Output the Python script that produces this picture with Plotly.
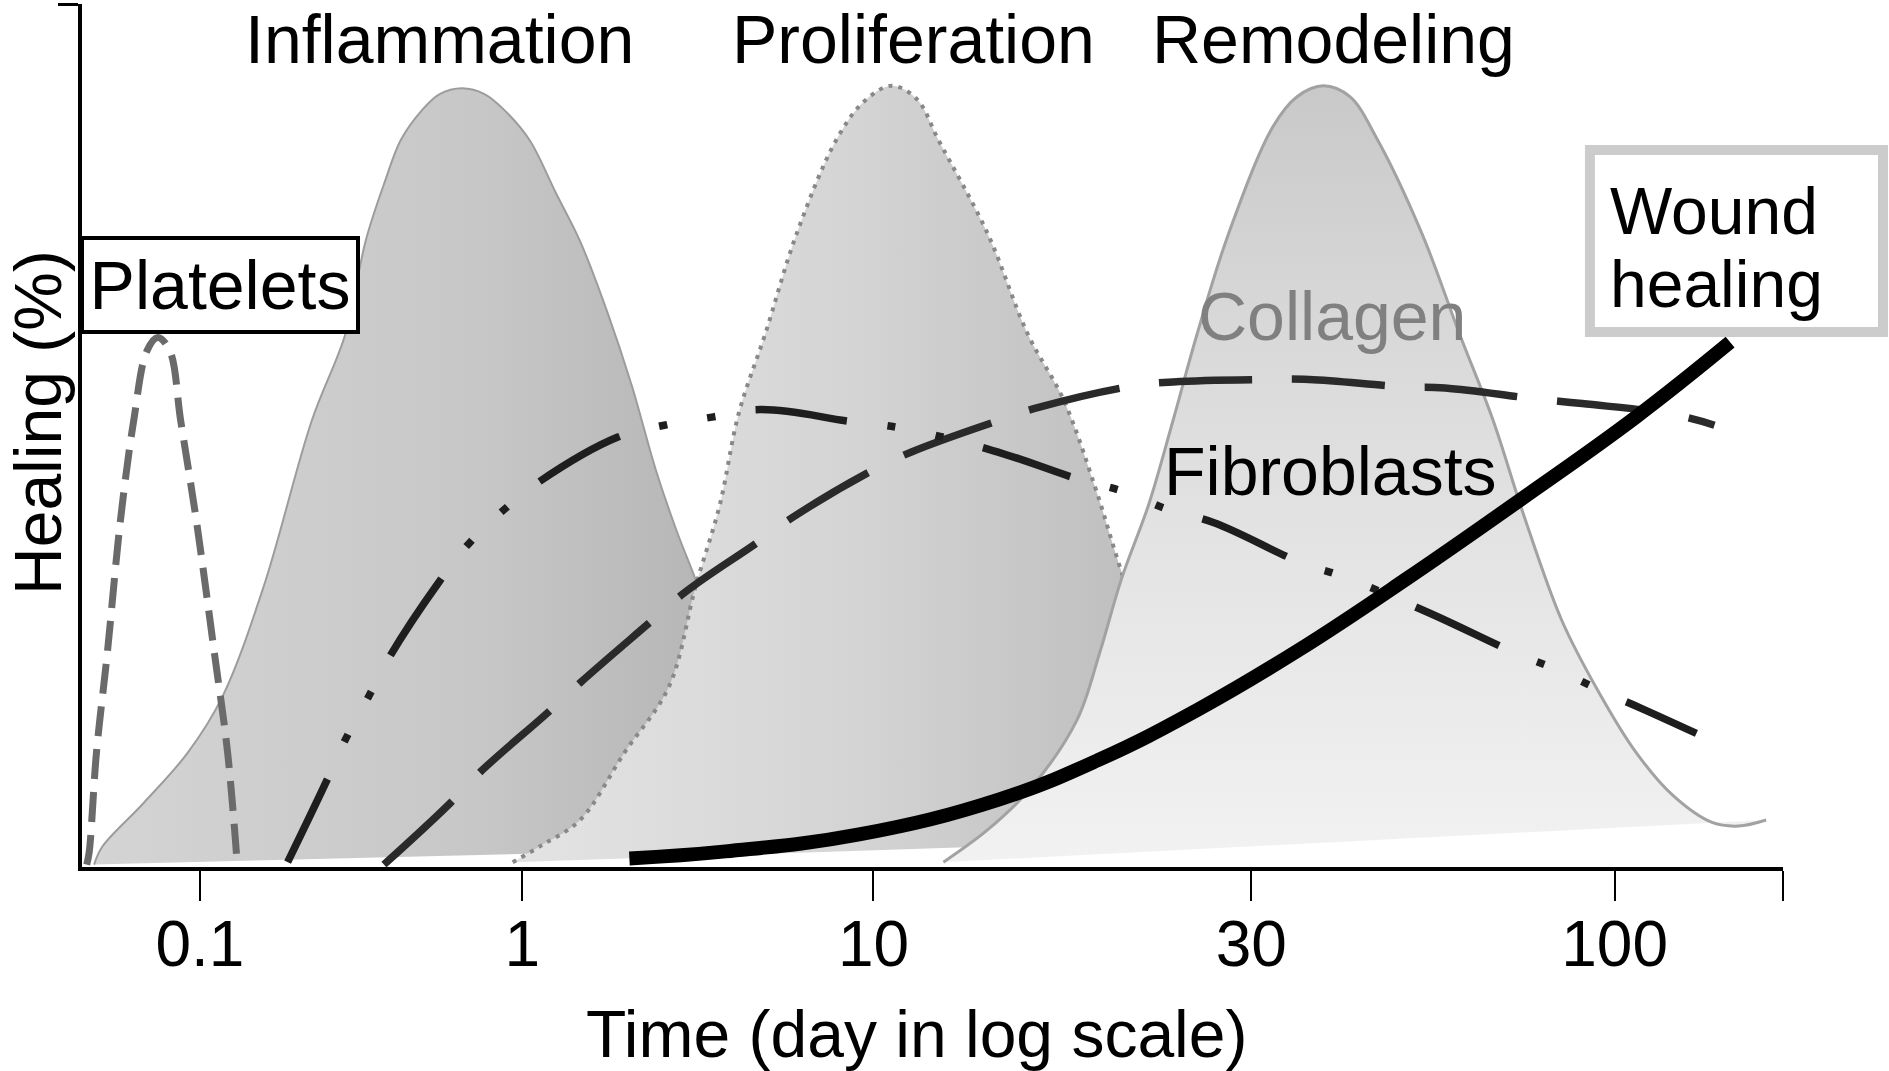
import plotly.graph_objects as go

FONT = "Liberation Sans, Arial, Helvetica, sans-serif"

# x: schematic position along the time axis (0-100), y: healing (%)
tick_pos = [6.93, 25.88, 46.53, 68.74, 90.10, 100]
tick_text = ["0.1", "1", "10", "30", "100", ""]

# Phase bells
inflam_x = [0.71, 1.20, 3.61, 6.22, 8.27, 10.68, 13.51, 15.49, 16.69, 17.82, 18.74, 19.94, 21.00,
            22.35, 23.69, 24.89, 26.31, 27.86, 29.28, 30.91, 32.32, 33.73, 34.94, 36.07, 37.62,
            39.75, 42.57, 46.11]
inflam_y = [0.28, 2.37, 7.39, 13.25, 19.80, 32.50, 51.74, 61.79, 72.66, 79.50, 84.24, 87.59, 89.54,
            90.24, 89.54, 87.59, 84.24, 78.10, 72.52, 64.16, 55.79, 46.03, 39.05, 33.33, 25.10,
            15.34, 6.97, 2.51]

prolif_x = [25.32, 27.02, 29.28, 31.89, 34.51, 36.07, 37.48, 38.61, 40.17, 42.01, 44.34, 45.97,
            47.60, 49.08, 50.35, 53.25, 55.59, 57.71, 59.55, 60.89, 62.38, 64.14, 66.62, 70.16]
prolif_y = [0.56, 2.51, 5.44, 13.25, 20.92, 32.50, 41.84, 52.58, 61.79, 73.36, 84.24, 88.70,
            90.52, 88.98, 84.24, 73.36, 61.79, 54.11, 44.07, 35.56, 26.50, 16.74, 8.37, 3.49]

remod_x = [50.64, 53.25, 55.87, 58.49, 59.83, 61.10, 62.73, 64.14, 65.56, 67.40, 70.01, 71.43,
           72.98, 74.54, 76.17, 78.78, 80.98, 82.96, 84.72, 86.99, 89.18, 91.37, 93.56, 95.83,
           97.38, 99.01]
remod_y = [0.56, 4.32, 9.34, 17.02, 24.83, 33.33, 42.12, 51.74, 61.79, 73.36, 85.77, 89.26,
           90.52, 89.26, 84.24, 73.36, 61.79, 51.74, 41.00, 28.59, 20.22, 13.25, 8.23, 5.16,
           4.74, 5.44]

# Curves
platelets_x = [0.28, 0.42, 0.85, 1.49, 2.26, 3.04, 3.82, 4.46, 5.16, 5.80, 6.72, 7.78, 8.56, 9.12]
platelets_y = [0.28, 1.67, 13.25, 24.83, 40.17, 51.74, 59.83, 61.37, 59.83, 51.74, 40.17, 24.83,
               13.25, 0.56]

collagen_x = [17.75, 21.64, 23.34, 27.44, 29.28, 33.45, 35.43, 39.75, 41.73, 46.53, 48.80, 53.89,
              56.29, 61.53, 64.14, 69.66, 72.14, 77.65, 80.13, 85.43, 88.19, 93.49, 95.97]
collagen_y = [0.28, 7.39, 10.88, 17.99, 21.34, 28.45, 31.80, 37.66, 40.45, 46.03, 48.12, 51.74,
              53.28, 55.65, 56.21, 56.49, 56.49, 55.65, 55.51, 54.25, 53.70, 52.44, 51.19]

fibro_x = [12.09, 14.43, 15.49, 16.83, 18.10, 21.00, 22.70, 24.82, 26.87, 31.47, 34.23, 37.13,
           39.89, 45.26, 48.02, 53.54, 58.63, 61.24, 63.86, 66.55, 71.64, 74.19, 79.21, 84.23,
           86.70, 89.39, 91.80, 94.91]
fibro_y = [0.56, 10.18, 14.78, 19.67, 24.41, 33.05, 37.38, 41.42, 44.63, 49.79, 51.19, 52.16,
           53.00, 51.60, 50.91, 48.26, 44.91, 43.51, 41.42, 39.89, 35.29, 33.61, 29.43, 24.83,
           22.87, 20.36, 18.27, 15.48]

wound_x = [32.18, 37.84, 45.69, 53.89, 59.76, 65.63, 71.50, 77.93, 84.65, 91.37, 96.89]
wound_y = [0.98, 1.81, 3.77, 7.81, 12.41, 18.27, 25.10, 33.47, 42.68, 52.16, 60.81]

fig = go.Figure()

# Inflammation bell
fig.add_trace(go.Scatter(
    x=inflam_x, y=inflam_y, mode="lines", fill="toself",
    fillgradient=dict(type="horizontal", start=0.7, stop=46,
                      colorscale=[[0, "#d4d4d4"], [0.5, "#c7c7c7"], [1, "#aaaaaa"]]),
    line=dict(color="#9c9c9c", width=2, shape="spline", smoothing=1.0),
    hoverinfo="skip", showlegend=False))

# Proliferation bell
fig.add_trace(go.Scatter(
    x=prolif_x, y=prolif_y, mode="lines", fill="toself",
    fillgradient=dict(type="horizontal", start=25, stop=66,
                      colorscale=[[0, "#e4e4e4"], [0.5, "#d4d4d4"], [0.8, "#c4c4c4"], [1, "#b9b9b9"]]),
    line=dict(color="#888888", width=4, shape="spline", smoothing=1.0, dash="4px,6px"),
    hoverinfo="skip", showlegend=False))

# Remodeling bell
fig.add_trace(go.Scatter(
    x=remod_x, y=remod_y, mode="lines", fill="toself",
    fillgradient=dict(type="vertical", start=0, stop=90,
                      colorscale=[[0, "#f2f2f2"], [0.4, "#e4e4e4"], [0.7, "#d8d8d8"], [1, "#c9c9c9"]]),
    line=dict(color="#a2a2a2", width=3, shape="spline", smoothing=1.0),
    hoverinfo="skip", showlegend=False))

# Platelets
fig.add_trace(go.Scatter(
    x=platelets_x, y=platelets_y, mode="lines",
    line=dict(color="#6a6a6a", width=7, shape="spline", smoothing=1.0, dash="30px,13px"),
    hoverinfo="skip", showlegend=False))

# Collagen
fig.add_trace(go.Scatter(
    x=collagen_x, y=collagen_y, mode="lines",
    line=dict(color="#2a2a2a", width=7.5, shape="spline", smoothing=1.2, dash="93px,40px"),
    hoverinfo="skip", showlegend=False))

# Fibroblasts
fig.add_trace(go.Scatter(
    x=fibro_x, y=fibro_y, mode="lines",
    line=dict(color="#1e1e1e", width=7.5, shape="spline", smoothing=1.2,
              dash="92px,41px,8px,41px,8px,41px"),
    hoverinfo="skip", showlegend=False))

# Wound healing
fig.add_trace(go.Scatter(
    x=wound_x, y=wound_y, mode="lines",
    line=dict(color="black", width=14, shape="spline", smoothing=1.2),
    hoverinfo="skip", showlegend=False))

LABEL = dict(family=FONT, size=68, color="black")
annotations = [
    dict(x=21.0, y=95.9, text="Inflammation", font=LABEL),
    dict(x=48.9, y=95.9, text="Proliferation", font=LABEL),
    dict(x=73.6, y=95.9, text="Remodeling", font=LABEL),
    dict(x=73.5, y=63.9, text="Collagen", font=dict(family=FONT, size=68, color="#808080")),
    dict(x=73.4, y=45.9, text="Fibroblasts", font=LABEL),
    dict(x=8.10, y=67.4, text="Platelets", font=LABEL, bgcolor="white", bordercolor="black",
         borderwidth=4, borderpad=0, width=272, height=90),
    dict(x=89.74, y=76.0, text="Wound", xanchor="left",
         font=dict(family=FONT, size=66, color="black")),
    dict(x=89.74, y=67.6, text="healing", xanchor="left",
         font=dict(family=FONT, size=66, color="black")),
]
for a in annotations:
    a.setdefault("xanchor", "center")
    a.update(xref="x", yref="y", showarrow=False, yanchor="middle")

# Axis titles
annotations += [
    dict(xref="paper", yref="paper", x=0.4903, y=-0.1935, text="Time (day in log scale)",
         showarrow=False, xanchor="center", yanchor="middle",
         font=dict(family=FONT, size=66, color="black")),
    dict(xref="paper", yref="paper", x=-0.0259, y=0.5156, text="Healing (%)", textangle=-90,
         showarrow=False, xanchor="center", yanchor="middle",
         font=dict(family=FONT, size=66, color="black")),
]

shapes = [
    dict(type="rect", xref="paper", yref="paper", x0=0.8865, x1=1.0588, y0=0.6199, y1=0.8308,
         line=dict(color="#cccccc", width=10), fillcolor="white", layer="above"),
]

fig.update_layout(
    width=1889, height=1071,
    margin=dict(l=82, r=106, t=4, b=204),
    paper_bgcolor="white", plot_bgcolor="white",
    font=dict(family=FONT, size=66, color="black"),
    annotations=annotations,
    shapes=shapes,
    xaxis=dict(range=[0, 100], showline=True, linecolor="black", linewidth=4,
               ticks="outside", ticklen=30, tickwidth=2, tickcolor="black",
               tickvals=tick_pos, ticktext=tick_text, ticklabelstandoff=-12,
               tickfont=dict(family=FONT, size=64, color="black"),
               showgrid=False, zeroline=False),
    yaxis=dict(range=[0, 100], showline=True, linecolor="black", linewidth=4,
               ticks="outside", ticklen=20, tickwidth=3, tickcolor="black",
               tickvals=[100], showticklabels=False,
               showgrid=False, zeroline=False),
)

fig.write_html("out.html", config={"displayModeBar": False},
               post_script="document.body.style.margin='0';")
